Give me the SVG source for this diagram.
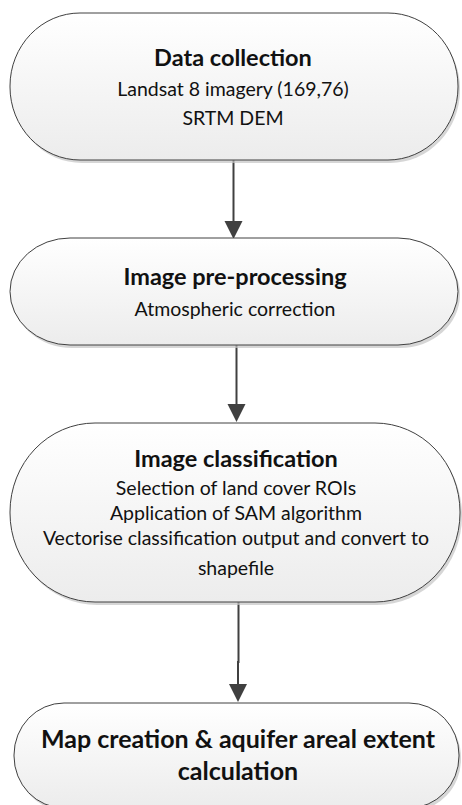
<svg xmlns="http://www.w3.org/2000/svg" width="462" height="805" viewBox="0 0 462 805">
<defs>
<linearGradient id="g" x1="0" y1="0" x2="0" y2="1">
<stop offset="0" stop-color="#ffffff"/>
<stop offset="1" stop-color="#ececec"/>
</linearGradient>
</defs>
<style>
.sh{fill:#c4c4c4;opacity:0.7}
.box{fill:url(#g);stroke:#404040;stroke-width:1}
.t{font-family:Lato,"Open Sans","Liberation Sans",sans-serif;font-weight:bold;fill:#111;text-anchor:middle}
.b{font-family:Lato,"Open Sans","Liberation Sans",sans-serif;font-size:19.5px;fill:#111;text-anchor:middle}
.c{stroke:#404040;stroke-width:2;fill:none}
.ah{fill:#404040}
</style>
<rect width="462" height="805" fill="#fff"/>
<g id="connectors">
<line class="c" x1="233.5" y1="160" x2="233.5" y2="222"/>
<path class="ah" d="M224.5,221 L242.5,221 L233.5,239 Z"/>
<line class="c" x1="236.5" y1="345" x2="236.5" y2="405"/>
<path class="ah" d="M227.5,404 L245.5,404 L236.5,422 Z"/>
<path class="c" d="M238.5,602 L238.5,662 L238,662 L238,685"/>
<path class="ah" d="M229,684 L247,684 L238,702 Z"/>
</g>
<g id="node1">
<rect class="sh" x="12" y="16" width="448" height="147" rx="70" ry="73"/>
<rect class="box" x="10" y="13" width="448" height="147" rx="70" ry="73"/>
<text class="t" x="233" y="66" font-size="23.5">Data collection</text>
<text class="b" x="233" y="96">Landsat 8 imagery (169,76)</text>
<text class="b" x="233" y="125">SRTM DEM</text>
</g>
<g id="node2">
<rect class="sh" x="12" y="241" width="448" height="107" rx="60" ry="53.5"/>
<rect class="box" x="10" y="238" width="448" height="107" rx="60" ry="53.5"/>
<text class="t" x="235" y="285" font-size="23.5">Image pre-processing</text>
<text class="b" x="235" y="316">Atmospheric correction</text>
</g>
<g id="node3">
<rect class="sh" x="12" y="426" width="450" height="179" rx="85" ry="89"/>
<rect class="box" x="10" y="423" width="450" height="179" rx="85" ry="89"/>
<text class="t" x="236" y="467" font-size="23.5">Image classification</text>
<text class="b" x="236" y="495">Selection of land cover ROIs</text>
<text class="b" x="236" y="520">Application of SAM algorithm</text>
<text class="b" x="236" y="545">Vectorise classification output and convert to</text>
<text class="b" x="236" y="575">shapefile</text>
</g>
<g id="node4">
<rect class="sh" x="16" y="706" width="445" height="105" rx="50" ry="52"/>
<rect class="box" x="14" y="703" width="445" height="105" rx="50" ry="52"/>
<text class="t" x="238" y="748" font-size="25">Map creation &amp; aquifer areal extent</text>
<text class="t" x="238" y="780" font-size="25">calculation</text>
</g>
</svg>
